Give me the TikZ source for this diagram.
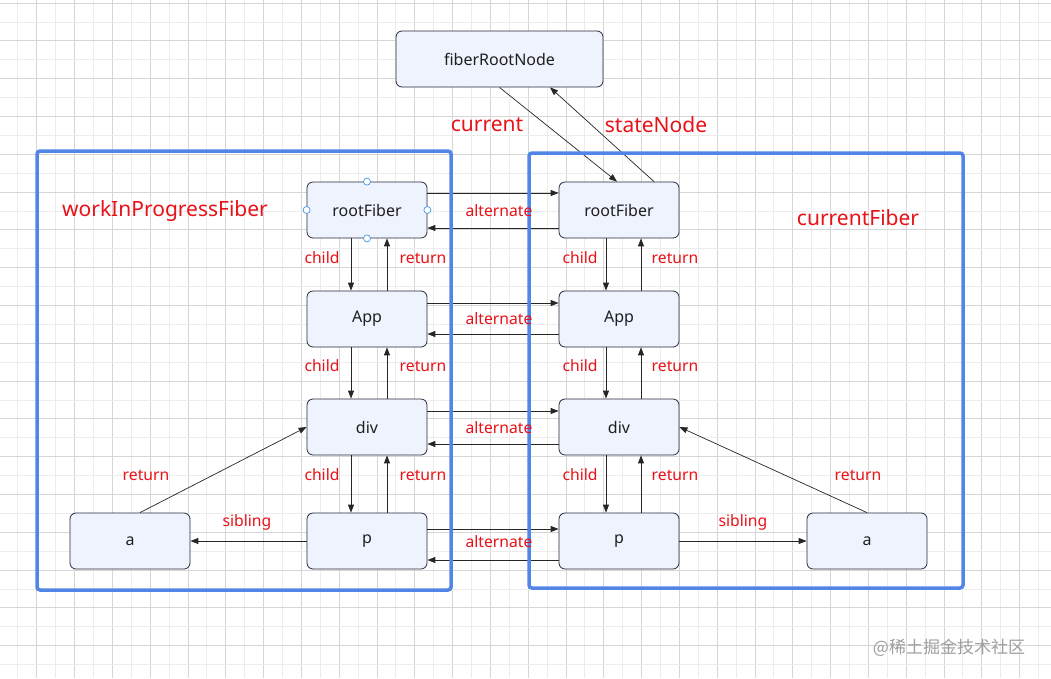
\documentclass[tikz,border=0pt]{standalone}
\usepackage{fontspec}
\setmainfont{Noto Sans}
\newfontfamily\cjk{Noto Sans CJK SC}
\usetikzlibrary{arrows.meta}
\definecolor{gridminor}{RGB}{236,236,236}
\definecolor{gridmajor}{RGB}{214,214,214}
\definecolor{nodefill}{RGB}{238,243,254}
\definecolor{nodedraw}{RGB}{40,42,60}
\definecolor{lblred}{RGB}{232,18,24}
\definecolor{frameblue}{RGB}{82,134,230}
\definecolor{handle}{RGB}{70,150,230}
\begin{document}
\begin{tikzpicture}[x=1pt,y=-1pt,
  fnode/.style={draw=nodedraw,line width=0.8pt,fill=nodefill,rounded corners=6pt,
    minimum width=120pt,minimum height=56pt,inner sep=0pt,font=\fontsize{16}{19}\selectfont,text=black!88},
  arr/.style={draw=black!85,line width=0.9pt,-{Triangle[length=8pt,width=6pt]}},
  thin arr/.style={draw=black!85,line width=0.7pt,-{Triangle[length=8pt,width=6pt]}},
  lbl/.style={text=lblred,font=\fontsize{15.7}{18}\selectfont,inner sep=0pt},
  biglbl/.style={text=lblred,font=\fontsize{21}{24}\selectfont,inner sep=0pt},
  frame/.style={draw=frameblue,line width=3.5pt,rounded corners=3pt},
  handlept/.style={circle,draw=handle,fill=white,line width=0.7pt,minimum size=7pt,inner sep=0pt}
]
\useasboundingbox (0,0) rectangle (1051,678);
\fill[white] (0,0) rectangle (1051,678);
% grid
\foreach \k in {0,...,56}{
  \pgfmathsetmacro{\xx}{-1.1+18.9*\k}
  \pgfmathtruncatemacro{\m}{mod(\k,2)}
  \ifnum\m=0 \draw[gridmajor,line width=0.8pt] (\xx,0) -- (\xx,678);
  \else \draw[gridminor,line width=0.8pt] (\xx,0) -- (\xx,678); \fi
}
\foreach \k in {0,...,36}{
  \pgfmathsetmacro{\yy}{3+18.9*\k}
  \pgfmathtruncatemacro{\m}{mod(\k,2)}
  \ifnum\m=0 \draw[gridmajor,line width=0.8pt] (0,\yy) -- (1051,\yy);
  \else \draw[gridminor,line width=0.8pt] (0,\yy) -- (1051,\yy); \fi
}
% nodes
\node[fnode,minimum width=207pt] (froot) at (499.5,59) {fiberRootNode};
\node[fnode] (lroot) at (367,210) {rootFiber};
\node[fnode] (lapp) at (367,319) {App};
\node[fnode] (ldiv) at (367,427) {div};
\node[fnode] (lp) at (367,541) {p};
\node[fnode] (la) at (130,541) {a};
\node[fnode] (rroot) at (619,210) {rootFiber};
\node[fnode] (rapp) at (619,319) {App};
\node[fnode] (rdiv) at (619,427) {div};
\node[fnode] (rp) at (619,541) {p};
\node[fnode] (ra) at (867,541) {a};
% fiberRootNode links
\draw[thin arr] (froot.south) -- (rroot.north -| 617,0);
\draw[thin arr] (rroot.north -| 654,0) -- (froot.south -| 550,0);
% alternate links
\draw[arr] (lroot.east |- 0,193) -- (rroot.west |- 0,193);
\draw[arr] (rroot.west |- 0,228) -- (lroot.east |- 0,228);
\draw[arr] (lapp.east |- 0,303) -- (rapp.west |- 0,303);
\draw[arr] (rapp.west |- 0,334) -- (lapp.east |- 0,334);
\draw[arr] (ldiv.east |- 0,411) -- (rdiv.west |- 0,411);
\draw[arr] (rdiv.west |- 0,444) -- (ldiv.east |- 0,444);
\draw[arr] (lp.east |- 0,529) -- (rp.west |- 0,529);
\draw[arr] (rp.west |- 0,560) -- (lp.east |- 0,560);
% child / return, left
\draw[arr] (lroot.south -| 351,0) -- (lapp.north -| 351,0);
\draw[arr] (lapp.north -| 387,0) -- (lroot.south -| 387,0);
\draw[arr] (lapp.south -| 351,0) -- (ldiv.north -| 351,0);
\draw[arr] (ldiv.north -| 387,0) -- (lapp.south -| 387,0);
\draw[arr] (ldiv.south -| 351,0) -- (lp.north -| 351,0);
\draw[arr] (lp.north -| 387,0) -- (ldiv.south -| 387,0);
% child / return, right
\draw[arr] (rroot.south -| 606,0) -- (rapp.north -| 606,0);
\draw[arr] (rapp.north -| 641,0) -- (rroot.south -| 641,0);
\draw[arr] (rapp.south -| 606,0) -- (rdiv.north -| 606,0);
\draw[arr] (rdiv.north -| 641,0) -- (rapp.south -| 641,0);
\draw[arr] (rdiv.south -| 606,0) -- (rp.north -| 606,0);
\draw[arr] (rp.north -| 641,0) -- (rdiv.south -| 641,0);
% sibling
\draw[arr] (lp.west) -- (la.east);
\draw[arr] (rp.east) -- (ra.west);
% a -> div return
\draw[thin arr] (la.north -| 140,0) -- (ldiv.west);
\draw[thin arr] (ra.north) -- (rdiv.east);
% frames
\draw[frame] (37,151) rectangle (451,590);
\draw[frame] (529,153) rectangle (963,588);
% selection handles
\node[handlept] (h1) at (lroot.north) {};
\node[handlept] (h2) at (lroot.south) {};
\node[handlept] (h3) at (lroot.west) {};
\node[handlept] (h4) at (lroot.east) {};
% labels
\node[biglbl] (tcur) at (487,125) {current};
\node[biglbl] (tsn) at (656,125) {stateNode};
\node[biglbl] (twip) at (165,211) {workInProgressFiber};
\node[biglbl] (tcf) at (858,218) {currentFiber};
\foreach \y/\n in {211/a1,319/a2,428/a3,542/a4}{
  \node[lbl] (alt\n) at (499,\y) {alternate};
}
\foreach \y/\n in {258/1,366/2,475/3}{
  \node[lbl] (lc\n) at (322,\y) {child};
  \node[lbl] (lr\n) at (423,\y) {return};
  \node[lbl] (rc\n) at (580,\y) {child};
  \node[lbl] (rr\n) at (675,\y) {return};
}
\node[lbl] (lret) at (146,475) {return};
\node[lbl] (rret) at (858,475) {return};
\node[lbl] (lsib) at (247,522) {sibling};
\node[lbl] (rsib) at (743,522) {sibling};
\node[text=black!38,font=\cjk\fontsize{17}{20}\selectfont,inner sep=0pt] (wm) at (949,648) {@稀土掘金技术社区};
\end{tikzpicture}
\end{document}
